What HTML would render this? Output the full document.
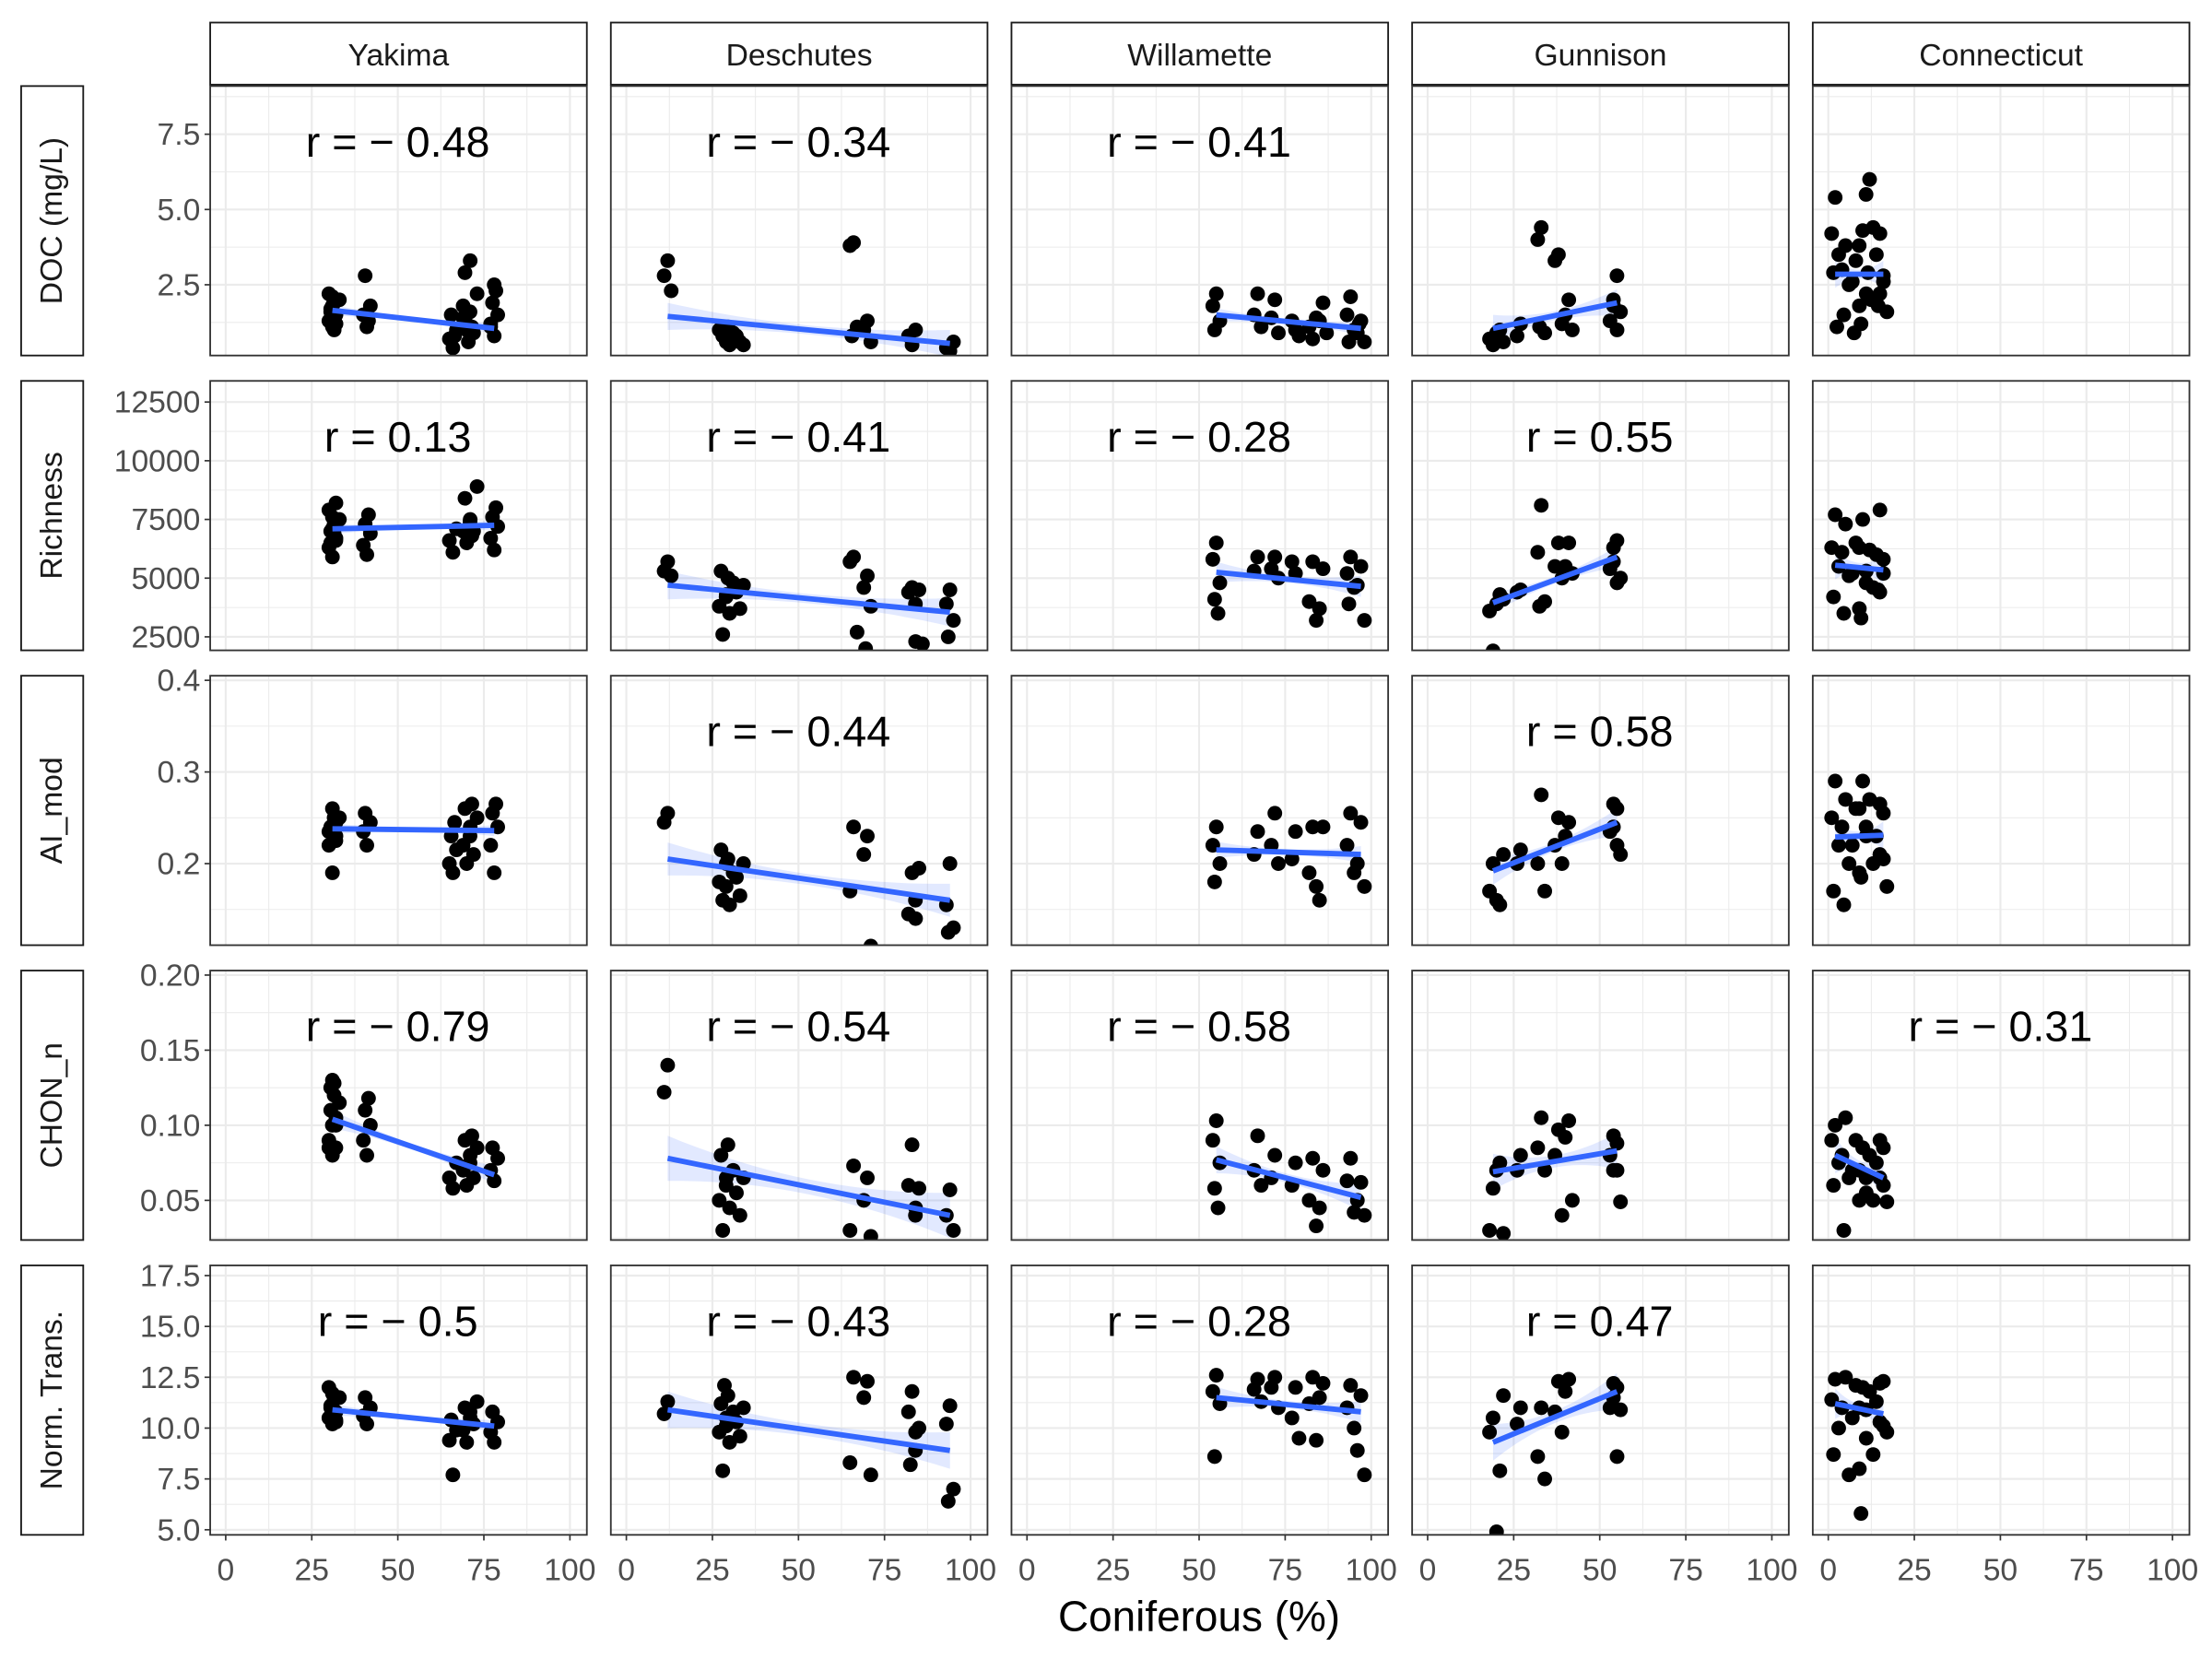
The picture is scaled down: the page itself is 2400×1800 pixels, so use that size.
<!DOCTYPE html>
<html><head><meta charset="utf-8">
<style>
html,body{margin:0;padding:0;background:#fff;}
svg{display:block;}
text{font-family:"Liberation Sans",Arial,sans-serif;}
</style></head>
<body>
<svg id="chart" xmlns="http://www.w3.org/2000/svg" width="2400" height="1800" viewBox="0 0 1568 1176">
<rect width="1568" height="1176" fill="#fff"/>
</svg>
<script>
const rivers = ["Yakima","Deschutes","Willamette","Gunnison","Connecticut"];
const metrics = ["DOC (mg/L)","Richness","AI_mod","CHON_n","Norm. Trans."];
const xTicks = [0,25,50,75,100];
const yTicks = [[2.5,5.0,7.5],[2500,5000,7500,10000,12500],[0.2,0.3,0.4],[0.05,0.10,0.15,0.20],[5.0,7.5,10.0,12.5,15.0,17.5]];
const yTickLabels = [["2.5","5.0","7.5"],["2500","5000","7500","10000","12500"],["0.2","0.3","0.4"],["0.05","0.10","0.15","0.20"],["5.0","7.5","10.0","12.5","15.0","17.5"]];
const yDomains = [[0.15,9.1],[1925,13400],[0.111,0.405],[0.0236,0.203],[4.75,18.0]];
const rValues = [
 ["−0.48","−0.34","−0.41",null,null],
 ["0.13","−0.41","−0.28","0.55",null],
 [null,"−0.44",null,"0.58",null],
 ["−0.79","−0.54","−0.58",null,"−0.31"],
 ["−0.5","−0.43","−0.28","0.47",null]];
const fits = [
 [[31,1.65,78,1.05],[12,1.45,94,0.55],[55,1.5,97,1.05],[19,1.05,55,1.9],[2,2.85,16,2.85]],
 [[31,7100,78,7250],[12,4700,94,3550],[55,5250,97,4650],[19,3950,55,5900],[2,5550,16,5350]],
 [[31,0.238,78,0.236],[12,0.205,94,0.16],[55,0.215,97,0.21],[19,0.192,55,0.245],[2,0.229,16,0.231]],
 [[31,0.104,78,0.067],[12,0.078,94,0.04],[55,0.077,97,0.052],[19,0.069,55,0.083],[2,0.08,16,0.065]],
 [[31,10.9,78,10.1],[12,10.9,94,8.9],[55,11.5,97,10.8],[19,9.3,55,11.8],[2,11.2,16,10.7]]];
const bandSE = [
 [0.12,0.3,0.15,0.3,0.3],
 [150,400,300,300,400],
 [0.004,0.012,0.006,0.01,0.01],
 [0.004,0.01,0.006,0.008,0.008],
 [0.2,0.6,0.35,0.6,0.5]];
const points = [
 [
  [[31,[1.1,1.3,1.5,1.7,1.9,2.1,2.2,1.2,1.6,1.4]],[32,[1.2,1.8,2.0,1.0]],[41,[1.1,1.5,1.8,2.8,1.3]],[66,[0.4,0.7,1.0,1.5,0.8]],[70,[1.0,1.8,3.3,2.9,0.6,1.2,1.4]],[72,[0.9,1.6,2.2,1.1]],[78,[0.8,1.1,1.5,1.9,2.3,2.5,1.2]]],
  [[12,[3.3,2.8,2.3]],[28,[0.8,1.0,0.6]],[30,[0.5,0.7,0.9,1.1]],[33,[0.6,0.8,0.5]],[66,[3.9,3.8,1.1,0.8]],[70,[1.3,1.0,0.6]],[83,[0.5,0.8,1.0]],[94,[0.3,0.4,0.6]]],
  [[55,[2.2,1.8,1.3,1.0]],[67,[2.2,1.5,1.1]],[72,[2.0,1.4,0.9]],[78,[1.0,1.3,0.8]],[83,[0.7,1.1,1.4]],[86,[1.9,1.3,0.9]],[94,[2.1,1.5,1.0,0.6]],[97,[1.3,0.9,0.6,1.2]]],
  [[19,[0.5,0.7,0.9]],[22,[0.6,1.0]],[27,[1.2,0.8]],[33,[4.4,4.0,0.9,1.1]],[38,[3.5,3.3,1.2]],[41,[2.0,1.5,1.0]],[54,[1.8,1.3,1.0]],[55,[2.8,2.0,1.6]]],
  [[2,[5.4,4.2,3.5,2.9,1.1]],[5,[3.8,3.0,2.5,1.5]],[8,[3.3,2.6,1.8,0.9]],[10,[4.3,3.8,2.2,1.2]],[12,[6.0,5.5,4.4,2.9,2.0]],[15,[4.2,3.5,2.6,1.8]],[16,[2.8,2.2,1.6]]]
 ],
 [
  [[31,[5900,6300,6700,7000,7300,7600,7900,8200,6500,6900]],[32,[6600,7100,7500]],[41,[6000,6400,6900,7300,7700]],[66,[6100,6600,7100]],[70,[6500,7000,7500,8400,6900]],[72,[7000,7400,8900,6800]],[78,[6200,6700,7200,7600,8000]]],
  [[12,[5700,5300,5100]],[28,[2600,3800,4300,5300]],[30,[3500,4200,4800,5000]],[33,[3700,4400,4700]],[66,[5900,5700,2700]],[70,[5100,4600,3800,2000]],[83,[4600,4400,2300]],[85,[4500,3900,2200]],[94,[4500,3900,3200,2500]]],
  [[55,[6500,5800,4800,4100,3500]],[67,[5900,5300]],[72,[5900,5400,5000]],[78,[5200,5700]],[83,[5700,4000,3200]],[86,[5400,3700]],[94,[5900,5200,4600,3900]],[97,[5500,4700,3200]]],
  [[19,[1900,3600,3900]],[22,[4100,4300]],[27,[4500,4400]],[33,[8100,6100,4000,3800]],[38,[6500,5500,5000]],[41,[6500,5500,5200]],[54,[6300,5400,4800]],[55,[6600,5700,5000]]],
  [[2,[7700,6300,5500,4200]],[5,[7300,6100,5100,3500]],[8,[6500,5200,3700]],[10,[7500,6300,5300,3300]],[12,[6200,4800,4600]],[15,[7900,6000,5200,4500]],[16,[5800,4400]]]
 ],
 [
  [[31,[0.19,0.22,0.23,0.24,0.25,0.26,0.235,0.245]],[32,[0.225,0.24,0.25]],[41,[0.22,0.235,0.245,0.255]],[66,[0.19,0.2,0.215,0.23,0.245]],[70,[0.2,0.22,0.24,0.26]],[72,[0.21,0.23,0.25,0.265]],[78,[0.19,0.22,0.24,0.255,0.265]]],
  [[12,[0.255,0.245]],[28,[0.16,0.18,0.2,0.215]],[30,[0.155,0.175,0.19,0.205]],[33,[0.165,0.185,0.2]],[66,[0.24,0.17]],[70,[0.23,0.21,0.11]],[83,[0.19,0.145,0.14]],[85,[0.195,0.16]],[94,[0.2,0.155,0.13,0.125]]],
  [[55,[0.24,0.22,0.2,0.18]],[67,[0.235,0.21]],[72,[0.255,0.22,0.2]],[78,[0.235,0.205]],[83,[0.24,0.19,0.175]],[86,[0.24,0.16]],[94,[0.255,0.22,0.19]],[97,[0.245,0.2,0.175]]],
  [[19,[0.2,0.17,0.16]],[22,[0.21,0.155]],[27,[0.215,0.2]],[33,[0.275,0.2,0.17]],[38,[0.25,0.22,0.2]],[41,[0.245,0.23]],[54,[0.265,0.235,0.22]],[55,[0.26,0.24,0.21]]],
  [[2,[0.29,0.25,0.22,0.17]],[5,[0.27,0.24,0.2,0.155]],[8,[0.26,0.22,0.19]],[10,[0.29,0.26,0.23,0.185]],[12,[0.27,0.24,0.2]],[15,[0.265,0.23,0.205]],[16,[0.255,0.21,0.175]]]
 ],
 [
  [[31,[0.08,0.09,0.1,0.11,0.12,0.13,0.085,0.105,0.125]],[32,[0.085,0.1,0.115,0.128]],[41,[0.08,0.09,0.1,0.11,0.118]],[66,[0.058,0.065,0.075]],[70,[0.06,0.07,0.08,0.09]],[72,[0.065,0.075,0.085,0.093]],[78,[0.063,0.07,0.078,0.085]]],
  [[12,[0.14,0.122]],[28,[0.03,0.05,0.065,0.08]],[30,[0.045,0.06,0.07,0.087]],[33,[0.04,0.055,0.065]],[66,[0.073,0.03]],[70,[0.065,0.05,0.026]],[83,[0.087,0.06,0.045]],[85,[0.058,0.04]],[94,[0.057,0.04,0.03]]],
  [[55,[0.103,0.09,0.075,0.058,0.045]],[67,[0.093,0.07,0.06]],[72,[0.08,0.065]],[78,[0.075,0.06]],[83,[0.078,0.05,0.033]],[86,[0.07,0.045]],[94,[0.078,0.063,0.042]],[97,[0.062,0.05,0.04]]],
  [[19,[0.058,0.03,0.07]],[22,[0.028,0.075]],[27,[0.08,0.07]],[33,[0.105,0.085,0.07]],[38,[0.097,0.08,0.04]],[41,[0.103,0.092,0.05]],[54,[0.093,0.08,0.07]],[55,[0.088,0.07,0.049]]],
  [[2,[0.1,0.09,0.075,0.06]],[5,[0.105,0.08,0.065,0.03]],[8,[0.09,0.07,0.05]],[10,[0.085,0.07,0.055]],[12,[0.08,0.065,0.05]],[15,[0.09,0.075,0.06]],[16,[0.085,0.065,0.049]]]
 ],
 [
  [[31,[10.2,10.5,10.8,11.1,11.4,11.7,12.0,10.3,11.0]],[32,[10.4,10.9,11.5]],[41,[10.2,10.6,11.0,11.5]],[66,[7.7,9.4,9.9,10.4]],[70,[9.3,9.9,10.5,11.0]],[72,[10.2,10.8,11.3]],[78,[9.3,9.8,10.3,10.8]]],
  [[12,[11.3,10.7]],[28,[7.9,9.8,10.5,11.2,12.1]],[30,[9.3,10.1,10.8,11.6]],[33,[9.6,10.3,11.0]],[66,[12.5,8.3]],[70,[12.3,11.5,7.7]],[83,[11.8,10.8,9.8,8.2]],[85,[10.0,8.9]],[94,[11.1,10.2,7.0,6.4]]],
  [[55,[12.6,11.8,11.2,8.6]],[67,[12.4,11.9,11.3]],[72,[12.5,12.0,11.0]],[78,[12.0,10.5,9.5]],[83,[12.5,11.2,9.4]],[86,[12.2,11.5]],[94,[12.1,11.0,10.0]],[97,[11.6,8.9,7.7]]],
  [[19,[10.5,9.8,4.9]],[22,[11.6,7.9]],[27,[11.0,10.2]],[33,[11.0,8.6,7.5]],[38,[12.3,10.8,9.8]],[41,[12.4,11.8]],[54,[12.2,11.0,8.6]],[55,[12.0,11.5,10.9]]],
  [[2,[12.4,11.4,10.0,8.7]],[5,[12.5,11.0,7.7]],[8,[12.1,10.5,8.0]],[10,[12.0,11.0,9.5,5.8]],[12,[11.8,10.9,8.7]],[15,[12.2,11.3,10.1]],[16,[12.3,10.3,9.8]]]
 ]
];

const svg = document.getElementById('chart');
const NS = 'http://www.w3.org/2000/svg';
function mk(tag, attrs, parent, txt){
  const e = document.createElementNS(NS, tag);
  for (const k in attrs) e.setAttribute(k, attrs[k]);
  if (txt !== undefined) e.textContent = txt;
  (parent||svg).appendChild(e);
  return e;
}
const colLeft = [149,433,717,1001,1285];
const rowTop = [61,270,479,688,897];
const PW = 267, PH = 191;
const jitterPx = [0,-2.5,2.5,-1.2,1.2];
function xScale(c, v){ return colLeft[c] + 11 + v * 2.44; }
function yScale(r, v){ const d = yDomains[r]; return rowTop[r] + PH - (v - d[0]) / (d[1] - d[0]) * PH; }

rivers.forEach((name, c) => {
  const g = mk('g', {});
  
  
  mk('rect', {x:colLeft[c], y:16, width:PW, height:44, fill:'#fff', stroke:'#1a1a1a', 'stroke-width':1.2}, g);
  mk('text', {x:colLeft[c]+PW/2, y:46.5, 'text-anchor':'middle', 'font-size':22, fill:'#1a1a1a'}, g, name);
});
metrics.forEach((name, r) => {
  const g = mk('g', {});
  
  
  mk('rect', {x:15, y:rowTop[r], width:44, height:PH, fill:'#fff', stroke:'#1a1a1a', 'stroke-width':1.2}, g);
  const cy = rowTop[r] + PH/2;
  mk('text', {x:37, y:cy, 'text-anchor':'middle', 'dominant-baseline':'central', 'font-size':22, fill:'#1a1a1a', transform:'rotate(-90 37 '+cy+')'}, g, name);
});

for (let r = 0; r < 5; r++) {
  for (let c = 0; c < 5; c++) {
    const g = mk('g', {});
    
    
    const L = colLeft[c], T = rowTop[r];
    const clipId = 'clip' + r + '_' + c;
    const cp = mk('clipPath', {id:clipId}, g);
    mk('rect', {x:L, y:T, width:PW, height:PH}, cp);
    mk('rect', {x:L, y:T, width:PW, height:PH, fill:'#fff'}, g);
    const inner = mk('g', {'clip-path':'url(#' + clipId + ')'}, g);
    for (let i = 0; i < xTicks.length - 1; i++) {
      const v = (xTicks[i] + xTicks[i+1]) / 2, x = xScale(c, v);
      mk('line', {x1:x, x2:x, y1:T, y2:T+PH, stroke:'#EBEBEB', 'stroke-width':0.7}, inner);
    }
    const yt = yTicks[r], step = yt[1] - yt[0];
    for (let v = yt[0] - step/2; v < yDomains[r][1]; v += step) {
      const y = yScale(r, v);
      mk('line', {x1:L, x2:L+PW, y1:y, y2:y, stroke:'#EBEBEB', 'stroke-width':0.7}, inner);
    }
    xTicks.forEach(v => { const x = xScale(c, v);
      mk('line', {x1:x, x2:x, y1:T, y2:T+PH, stroke:'#EBEBEB', 'stroke-width':1.4}, inner); });
    yt.forEach(v => { const y = yScale(r, v);
      mk('line', {x1:L, x2:L+PW, y1:y, y2:y, stroke:'#EBEBEB', 'stroke-width':1.4}, inner); });
    const f = fits[r][c], se = bandSE[r][c];
    const n = 20, up = [], lo = [];
    for (let i = 0; i <= n; i++) {
      const t = i / n, xv = f[0] + (f[2]-f[0])*t, yv = f[1] + (f[3]-f[1])*t;
      const w = se * (0.5 + 1.0 * Math.pow(2*t-1, 2));
      up.push(xScale(c, xv).toFixed(1) + ',' + yScale(r, yv + w).toFixed(1));
      lo.unshift(xScale(c, xv).toFixed(1) + ',' + yScale(r, yv - w).toFixed(1));
    }
    const band = mk('polygon', {points:up.concat(lo).join(' '), fill:'#3366FF', 'fill-opacity':0.14}, inner);
    
    
    points[r][c].forEach(grp => {
      grp[1].forEach((v, i) => {
        const p = mk('circle', {cx:xScale(c, grp[0]) + jitterPx[i % 5], cy:yScale(r, v), r:5.2, fill:'#000'}, inner);
        
        
      });
    });
    const ln = mk('line', {x1:xScale(c,f[0]), y1:yScale(r,f[1]), x2:xScale(c,f[2]), y2:yScale(r,f[3]), stroke:'#3366FF', 'stroke-width':3.8}, inner);
    
    
    if (rValues[r][c]) {
      const rv = rValues[r][c];
      const label = rv.startsWith('−') ? 'r = − ' + rv.slice(1) : 'r = ' + rv;
      const t = mk('text', {x:xScale(c, 50), y:T + 50, 'text-anchor':'middle', 'font-size':30.5, fill:'#000'}, inner, label);
      
      
    }
    mk('rect', {x:L, y:T, width:PW, height:PH, fill:'none', stroke:'#333', 'stroke-width':1.2}, g);
    if (c === 0) {
      yt.forEach((v, i) => { const y = yScale(r, v);
        mk('line', {x1:L-4, x2:L, y1:y, y2:y, stroke:'#333', 'stroke-width':1.1}, g);
        const lt = mk('text', {x:L-7, y:y+7.5, 'text-anchor':'end', 'font-size':22, fill:'#4D4D4D'}, g, yTickLabels[r][i]);
        
        
      });
    }
    if (r === 4) {
      xTicks.forEach(v => { const x = xScale(c, v);
        mk('line', {x1:x, x2:x, y1:T+PH, y2:T+PH+4, stroke:'#333', 'stroke-width':1.1}, g);
        const lt = mk('text', {x:x, y:T+PH+32, 'text-anchor':'middle', 'font-size':22, fill:'#4D4D4D'}, g, String(v));
        
        
      });
    }
  }
}
const xt = mk('text', {x:850, y:1156, 'text-anchor':'middle', 'font-size':30, fill:'#000'}, svg, 'Coniferous (%)');


</script>
</body></html>
